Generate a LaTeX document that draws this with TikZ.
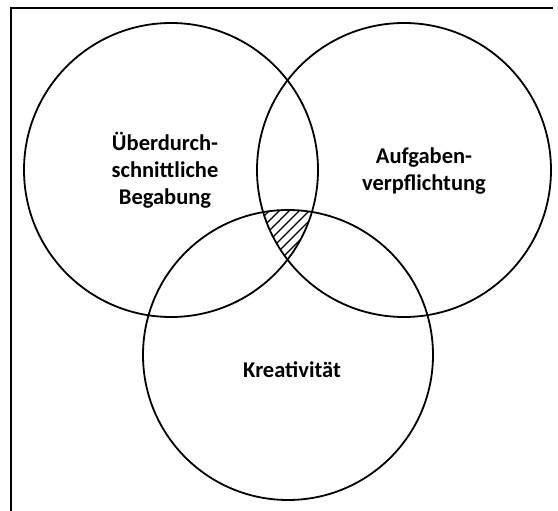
\documentclass[tikz,border=0pt]{standalone}
\usepackage{fontspec}
\setmainfont{Carlito}
\begin{document}
\begin{tikzpicture}[x=1pt,y=-1pt,
  ring/.style={draw=black,line width=1.8pt},
  label/.style={font=\fontsize{22.5}{27}\selectfont\bfseries,align=center,text=black},
  hatchline/.style={line width=1.4pt},
  frame/.style={line width=2.4pt}]
\useasboundingbox (0,0) rectangle (558,511);
\fill[white] (0,0) rectangle (558,511);
\draw[frame] (11,511) -- (11,8) -- (553,8);
\begin{scope}
  \clip (171,170) circle (147);
  \clip (404,170) circle (147);
  \clip (288,355) circle (145);
  \foreach \i in {-120,-110,...,120}
    \draw[hatchline] (240+\i,300) -- ++(110,-110);
\end{scope}
\draw[ring] (171,170) circle (147);
\draw[ring] (404,170) circle (147);
\draw[ring] (288,355) circle (145);
\node[label] (begabung) at (165,170) {Überdurch-\\schnittliche\\Begabung};
\node[label] (aufgaben) at (424,171) {Aufgaben-\\verpflichtung};
\node[label] (kreativ) at (292,370) {Kreativität};
\end{tikzpicture}
\end{document}
